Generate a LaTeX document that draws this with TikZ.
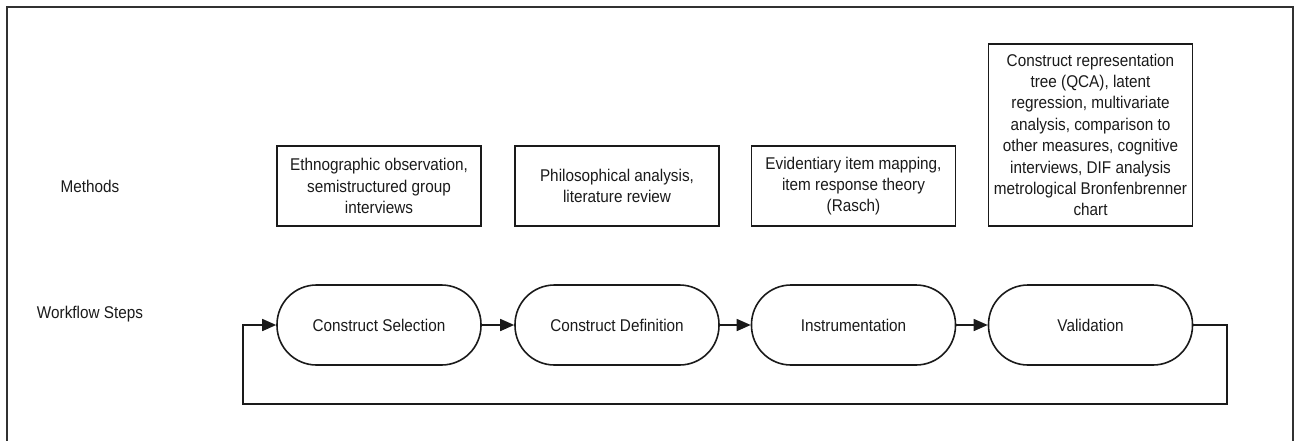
\documentclass[tikz,border=0pt]{standalone}
\usepackage{fontspec}
\setmainfont{Liberation Sans}[FakeStretch=0.9]
\usetikzlibrary{arrows.meta}
\definecolor{ink}{HTML}{1A1A1A}
\begin{document}
\begin{tikzpicture}[x=1pt,y=-1pt,
  txt/.style={font=\fontsize{17}{21.4}\selectfont, text=ink},
  method/.style={txt, draw=ink, line width=1.6pt, minimum width=204pt, minimum height=80pt, inner sep=0pt, align=center},
  stepbox/.style={txt, draw=ink, line width=1.6pt, rounded corners=39.5pt, minimum width=204pt, minimum height=80pt, inner sep=0pt},
  flow/.style={draw=ink, line width=1.6pt, -{Triangle[length=14pt,width=12pt]}},
  lbl/.style={txt}]
\useasboundingbox (0,0) rectangle (1298,440);
% outer frame (bottom edge lies outside the picture)
\draw[ink!90, line width=1.5pt] (7,445) -- (7,7) -- (1293,7) -- (1293,445);

% row labels
\node[lbl] (lm) at (90,186) {Methods};
\node[lbl] (lw) at (90,314) {Workflow Steps};

% methods boxes
\node[method] (m1) at (379,186) {Ethnographic observation,\\semistructured group\\interviews};
\node[method] (m2) at (617,186) {Philosophical analysis,\\literature review};
\node[method] (m3) at (853.5,186) {Evidentiary item mapping,\\item response theory\\(Rasch)};
\node[method, minimum height=182pt] (m4) at (1090.5,135) {Construct representation\\tree (QCA), latent\\regression, multivariate\\analysis, comparison to\\other measures, cognitive\\interviews, DIF analysis\\metrological Bronfenbrenner\\chart};

% workflow steps
\node[stepbox] (s1) at (379,325) {Construct Selection};
\node[stepbox] (s2) at (617,325) {Construct Definition};
\node[stepbox] (s3) at (853.5,325) {Instrumentation};
\node[stepbox] (s4) at (1090.5,325) {Validation};

\draw[flow] (s1) -- (s2);
\draw[flow] (s2) -- (s3);
\draw[flow] (s3) -- (s4);

\coordinate (lr) at (1227,404);
\coordinate (ll) at (243,404);
\draw[flow] (s4.east) -| (lr) -- (ll) |- (s1.west);
\end{tikzpicture}
\end{document}
